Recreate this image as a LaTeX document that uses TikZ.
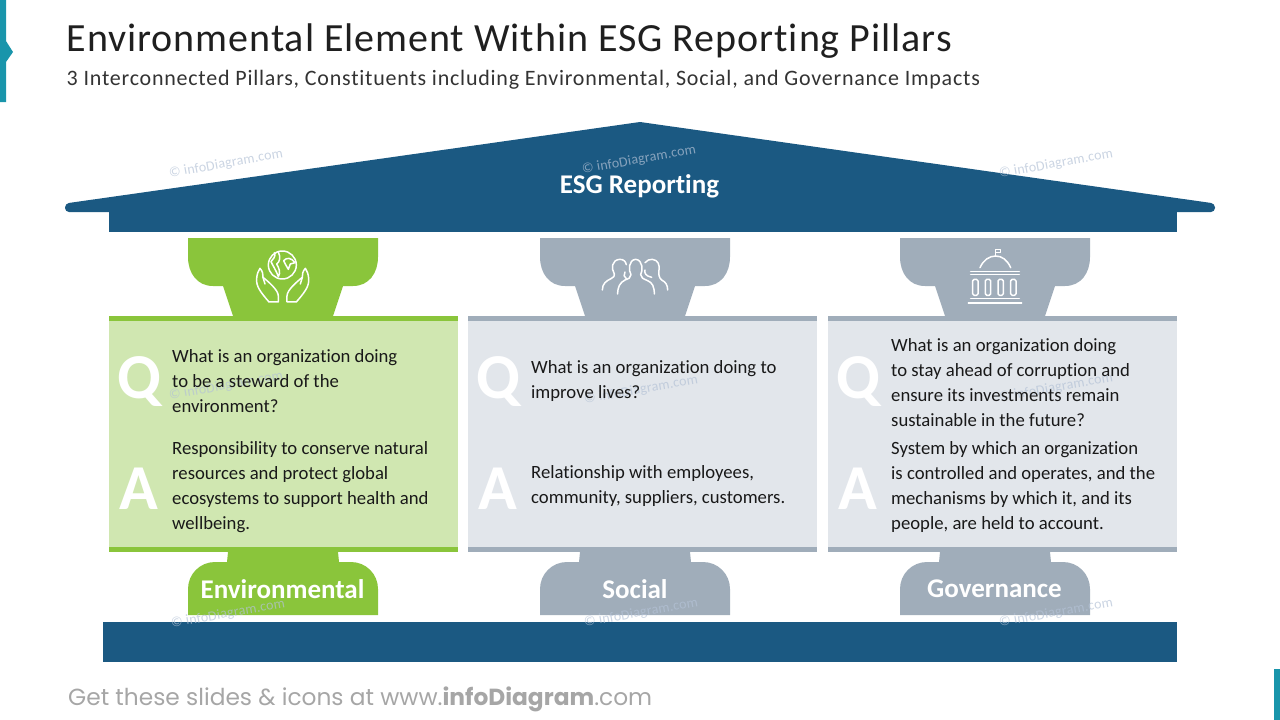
\documentclass[tikz,border=0pt]{standalone}
\usepackage{fontspec}
\setmainfont{Carlito}[Ligatures=NoCommon]
\newfontfamily\footfont{Poppins}
\definecolor{navy}{HTML}{1B5982}
\definecolor{leaf}{HTML}{8AC53B}
\definecolor{leaflight}{HTML}{D0E7B1}
\definecolor{slate}{HTML}{A0ADBA}
\definecolor{slatelight}{HTML}{E2E6EB}
\definecolor{tealbar}{HTML}{1995AB}
\definecolor{markgrey}{HTML}{B4C2D6}
\begin{document}
\begin{tikzpicture}
    [
        x=1pt,
        y=-1pt,
        bodytext/.style={
                anchor=west,
                inner sep=0pt,
                align=left,
                text=black!90,
                font=\fontsize{18.7}{25}\selectfont,
            },
        bigletter/.style={
                inner sep=0pt,
                text=white,
                font=\fontsize{64}{64}\selectfont\bfseries,
            },
        pillarname/.style={
                inner sep=0pt,
                text=white,
                font=\fontsize{27}{30}\selectfont\bfseries,
            },
        watermark/.style={
                inner sep=0pt,
                rotate=10,
                text=markgrey,
                opacity=0.7,
                font=\addfontfeatures{LetterSpace=1.5}\fontsize{14}{16}\selectfont,
            },
        iconline/.style={
                draw=white,
                line width=1.5pt,
                line cap=round,
                line join=round,
            },
        capital/.pic={
                \fill [#1] (-95,0) -- (95,0) -- (95,19)
                    .. controls (95,35) and (86,48) .. (70,48)
                    -- (60,48) -- (50,78) -- (-50,78) -- (-60,48) -- (-70,48)
                    .. controls (-86,48) and (-95,35) .. (-95,19) -- cycle;
            },
        plinth/.pic={
                \fill [#1] (-55,0) -- (55,0) -- (56,10) -- (68,10)
                    .. controls (83,10) and (95,22) .. (95,37)
                    -- (95,63) -- (-95,63) -- (-95,37)
                    .. controls (-95,22) and (-83,10) .. (-68,10)
                    -- (-56,10) -- cycle;
            },
    ]

    \useasboundingbox (0,0) rectangle (1280,720);

    % side marks
    \fill [tealbar] (0,0) -- (6,0) -- (6,41) -- (13,52) -- (6,62) -- (6,102) -- (0,102) -- cycle;
    \fill [tealbar] (1274,669) rectangle (1280,720);

    % title
    \node [anchor=west, inner sep=0pt, text=black!88, font=\addfontfeatures{LetterSpace=2.35}\fontsize{40}{44}\selectfont] (title) at (66.5,41)
        {Environmental Element Within ESG Reporting Pillars};
    \node [anchor=west, inner sep=0pt, text=black!80, font=\addfontfeatures{LetterSpace=3.5}\fontsize{22}{26}\selectfont] (subtitle) at (66.5,79.5)
        {3 Interconnected Pillars, Constituents including Environmental, Social, and Governance Impacts};

    % roof and base
    \fill [navy] (640,122) [rounded corners=4pt] -- (1215,203.5) -- (1215,212) -- (65,212) -- (65,203.5) [sharp corners] -- cycle;
    \fill [navy] (109,205) rectangle (1177,232);
    \fill [navy] (103,622) rectangle (1177,662);

    % left pillar
    \pic at (283,238) {capital=leaf};
    \fill [leaflight] (109,316) rectangle (458,552);
    \fill [leaf] (109,316) rectangle (458,321);
    \fill [leaf] (109,547) rectangle (458,552);
    \pic at (283,552) {plinth=leaf};

    % middle pillar
    \pic at (635,238) {capital=slate};
    \fill [slatelight] (468,316) rectangle (817,552);
    \fill [slate] (468,316) rectangle (817,321);
    \fill [slate] (468,547) rectangle (817,552);
    \pic at (635,552) {plinth=slate};

    % right pillar
    \pic at (995,238) {capital=slate};
    \fill [slatelight] (828,316) rectangle (1177,552);
    \fill [slate] (828,316) rectangle (1177,321);
    \fill [slate] (828,547) rectangle (1177,552);
    \pic at (995,552) {plinth=slate};

    % watermarks
    \node [watermark] (mark1) at (226,164) {© infoDiagram.com};
    \node [watermark] (mark2) at (639,160) {© infoDiagram.com};
    \node [watermark] (mark3) at (1056,164) {© infoDiagram.com};
    \node [watermark] (mark4) at (226,386) {© infoDiagram.com};
    \node [watermark] (mark5) at (641,390) {© infoDiagram.com};
    \node [watermark] (mark6) at (1056,388) {© infoDiagram.com};
    \node [watermark] (mark7) at (228,614) {© infoDiagram.com};
    \node [watermark] (mark8) at (641,613) {© infoDiagram.com};
    \node [watermark] (mark9) at (1056,613) {© infoDiagram.com};

    % globe in hands
    \begin{scope}[shift={(245,240)}, x=0.3333pt, y=-0.3333pt]
        \draw [iconline] (112,75) circle [radius=42];
        \draw [iconline] (88,38) .. controls (94,50) and (84,56) .. (78,65)
            .. controls (84,78) and (94,92) .. (100,110)
            .. controls (108,98) and (102,84) .. (95,72)
            .. controls (104,66) and (108,52) .. (100,36);
        \draw [iconline] (116,62) .. controls (125,52) and (138,52) .. (150,68)
            -- (136,72) -- (130,88) -- (122,74) -- cycle;
        \draw [iconline] (72,186) .. controls (50,160) and (32,140) .. (35,115)
            .. controls (36,102) and (40,92) .. (45,85)
            .. controls (54,95) and (54,104) .. (54,112)
            .. controls (70,125) and (100,150) .. (100,168) -- (100,186) -- cycle;
        \draw [iconline] (54,112) -- (60,132);
        \draw [iconline] (154,186) .. controls (176,160) and (194,140) .. (191,115)
            .. controls (190,102) and (186,92) .. (181,85)
            .. controls (172,95) and (172,104) .. (172,112)
            .. controls (156,125) and (126,150) .. (126,168) -- (126,186) -- cycle;
        \draw [iconline] (172,112) -- (166,132);
    \end{scope}

    % three people
    \begin{scope}[shift={(595,250)}, x=0.3333pt, y=-0.3333pt]
        \draw [iconline] (68,132) .. controls (68,110) and (75,98) .. (90,90)
            .. controls (100,86) and (108,84) .. (108,74)
            .. controls (100,62) and (100,30) .. (122,28)
            .. controls (144,30) and (144,62) .. (137,74)
            .. controls (137,84) and (145,86) .. (158,92)
            .. controls (172,98) and (178,110) .. (178,132);
        \draw [iconline] (22,120) .. controls (22,100) and (35,92) .. (48,86)
            .. controls (56,82) and (60,78) .. (58,72)
            .. controls (48,55) and (50,30) .. (74,28)
            .. controls (86,28) and (92,34) .. (94,44);
        \draw [iconline] (90,66) .. controls (86,74) and (86,82) .. (94,86);
        \draw [iconline] (150,38) .. controls (156,30) and (164,28) .. (172,28)
            .. controls (190,30) and (194,45) .. (192,60)
            .. controls (190,72) and (192,84) .. (200,90)
            .. controls (212,96) and (218,105) .. (218,120);
        \draw [iconline] (150,60) .. controls (148,70) and (152,78) .. (170,82);
    \end{scope}

    % domed building
    \begin{scope}[shift={(960,242)}, x=0.3333pt, y=-0.3333pt]
        \draw [iconline] (107,42) -- (107,22) -- (122,22) -- (122,32) -- (107,32);
        \draw [iconline] (60,77) .. controls (70,54) and (88,42) .. (107,42)
            .. controls (126,42) and (142,54) .. (152,77);
        \draw [iconline] (32,88) -- (178,88);
        \draw [iconline] (32,98) -- (178,98);
        \draw [iconline, rounded corners=1.5pt] (38,112) rectangle (54,160);
        \draw [iconline, rounded corners=1.5pt] (76,112) rectangle (92,160);
        \draw [iconline, rounded corners=1.5pt] (114,112) rectangle (130,160);
        \draw [iconline, rounded corners=1.5pt] (152,112) rectangle (168,160);
        \draw [iconline] (32,170) -- (178,170);
        \draw [iconline] (25,183) -- (185,183);
    \end{scope}

    % labels
    \node [pillarname] (roofname) at (639.5,186) {ESG Reporting};
    \node [pillarname] (envname) at (282.5,589) {Environmental};
    \node [pillarname] (socname) at (635,589) {Social};
    \node [pillarname] (govname) at (994.5,589) {Governance};

    % question and answer letters
    \node [bigletter] (envq) at (139.5,382) {Q};
    \node [bigletter] (enva) at (138.5,489) {A};
    \node [bigletter] (socq) at (498.5,382) {Q};
    \node [bigletter] (soca) at (498,489) {A};
    \node [bigletter] (govq) at (858.5,382) {Q};
    \node [bigletter] (gova) at (858,489) {A};

    % left pillar text
    \node [bodytext] (envask) at (172,381.5)
        {What is an organization doing\\to be a steward of the\\environment?};
    \node [bodytext] (envans) at (172,487)
        {Responsibility to conserve natural\\resources and protect global\\ecosystems to support health and\\wellbeing.};

    % middle pillar text
    \node [bodytext] (socask) at (531,381.5)
        {What is an organization doing to\\improve lives?};
    \node [bodytext] (socans) at (531,486)
        {Relationship with employees,\\community, suppliers, customers.};

    % right pillar text
    \node [bodytext] (govask) at (891,382.5)
        {What is an organization doing\\to stay ahead of corruption and\\ensure its investments remain\\sustainable in the future?};
    \node [bodytext] (govans) at (891,487)
        {System by which an organization\\is controlled and operates, and the\\mechanisms by which it, and its\\people, are held to account.};

    % footer
    \node [anchor=west, inner sep=0pt, text=black!35, font=\footfont\fontsize{23.3}{26}\selectfont] (footer) at (68,699)
        {Get these slides \& icons at www.\textbf{infoDiagram}.com};
\end{tikzpicture}
\end{document}
